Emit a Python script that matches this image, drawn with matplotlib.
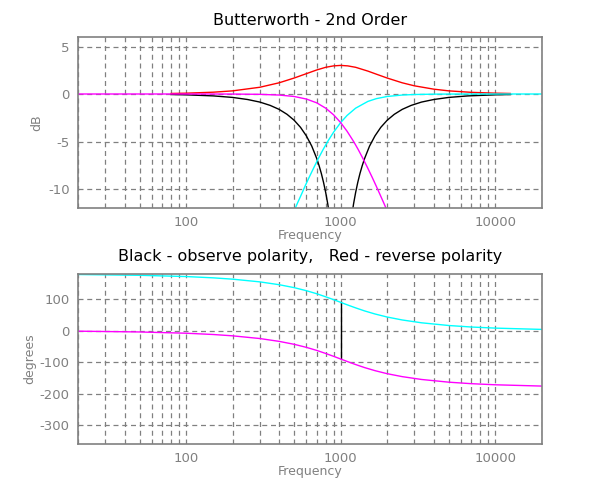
import matplotlib
matplotlib.use("Agg")
import matplotlib.pyplot as plt
from matplotlib.ticker import LogLocator, FixedLocator, NullFormatter

# ---- data ----
# Magnitude (dB)
f_lp = [20, 50, 100, 150, 200, 300, 400, 500, 600, 700, 800, 900, 1000, 1100, 1200, 1250,
        1300, 1400, 1500, 1600, 1700, 1800, 1900, 2000, 2200]
db_lp = [0.0, 0.0, 0.0, -0.002, -0.007, -0.035, -0.11, -0.26, -0.53, -0.93, -1.49, -2.19,
         -3.01, -3.92, -4.88, -5.37, -5.86, -6.85, -7.83, -8.78, -9.71, -10.61, -11.47,
         -12.3, -13.8]

f_hp = [450, 500, 526, 556, 588, 625, 667, 714, 769, 800, 833, 900, 1000, 1100, 1250, 1500,
        1700, 2000, 2500, 3000, 4000, 5000, 7000, 10000, 20000]
db_hp = [-13.8, -12.3, -11.47, -10.61, -9.71, -8.78, -7.83, -6.85, -5.86, -5.37, -4.88,
         -4.02, -3.01, -2.26, -1.49, -0.78, -0.49, -0.26, -0.11, -0.053, -0.017, -0.007,
         -0.002, 0.0, 0.0]

f_sum = [80, 100, 150, 200, 300, 400, 500, 600, 700, 800, 900, 1000, 1111, 1250, 1500,
         1700, 2000, 2500, 3000, 4000, 5000, 7000, 10000, 12500]
db_rev = [0.055, 0.086, 0.19, 0.33, 0.71, 1.18, 1.68, 2.14, 2.53, 2.81, 2.96, 3.01, 2.96,
          2.81, 2.41, 2.09, 1.68, 1.18, 0.86, 0.51, 0.33, 0.175, 0.086, 0.055]

f_notch_lo = [80, 100, 150, 200, 250, 300, 350, 400, 450, 500, 550, 600, 650, 700, 725,
              750, 775, 800, 825, 850]
db_notch_lo = [-0.056, -0.087, -0.20, -0.36, -0.58, -0.85, -1.20, -1.62, -2.14, -2.76,
               -3.51, -4.41, -5.48, -6.78, -7.54, -8.37, -9.31, -10.36, -11.56, -12.95]
f_notch_hi = [1176, 1212, 1250, 1290, 1333, 1379, 1429, 1538, 1667, 1818, 2000, 2222, 2500,
              2857, 3333, 4000, 5000, 6667, 10000, 12500]
db_notch_hi = [-12.95, -11.56, -10.36, -9.31, -8.37, -7.54, -6.78, -5.48, -4.41, -3.51,
               -2.76, -2.14, -1.62, -1.20, -0.85, -0.58, -0.36, -0.20, -0.087, -0.056]

# Phase (degrees)
f_ph = [20, 50, 100, 150, 200, 300, 400, 500, 600, 700, 800, 900, 1000, 1111, 1250,
        1429, 1667, 2000, 2500, 3333, 5000, 7000, 10000, 20000]
ph_lp = [-1.6, -4.1, -8.1, -12.2, -16.4, -25.0, -34.0, -43.3, -53.0, -62.7, -72.4, -81.5,
         -90.0, -98.5, -107.6, -117.3, -127.0, -136.7, -146.0, -155.0, -163.6, -168.4,
         -171.9, -176.0]
ph_hp = [178.4, 175.9, 171.9, 167.8, 163.6, 155.0, 146.0, 136.7, 127.0, 117.3, 107.6,
         98.5, 90.0, 81.5, 72.4, 62.7, 53.0, 43.3, 34.0, 25.0, 16.4, 11.6, 8.1, 4.0]
f_jump = [1000, 1000]
ph_jump = [-90, 90]

xticks = [100, 1000, 10000]
xticklabels = ["100", "1000", "10000"]
yticks_top = [5, 0, -5, -10]
yticks_bot = [100, 0, -100, -200, -300]

# ---- figure ----
plt.rcParams['font.family'] = ['DejaVu Sans']
plt.rcParams['axes.unicode_minus'] = False
fig = plt.figure(figsize=(6, 5), dpi=100)
ax1 = fig.add_axes([0.13, 0.584, 0.773, 0.342])
ax2 = fig.add_axes([0.13, 0.112, 0.773, 0.340])

gray = '#808080'

def style(ax, yt, ylab_x):
    ax.set_xscale('log')
    ax.set_xlim(20, 20000)
    ax.xaxis.set_major_locator(FixedLocator(xticks))
    ax.set_xticklabels(xticklabels)
    ax.xaxis.set_minor_locator(LogLocator(base=10, subs=range(2, 10)))
    ax.xaxis.set_minor_formatter(NullFormatter())
    ax.set_yticks(yt)
    ax.grid(True, which='both', axis='x', color=gray, linestyle=(0, (4, 3)), linewidth=0.9)
    ax.grid(True, which='major', axis='y', color=gray, linestyle=(0, (4, 3)), linewidth=0.9)
    ax.tick_params(which='both', length=0, labelcolor=gray, labelsize=9.5, pad=6)
    for s in ax.spines.values():
        s.set_color(gray)
        s.set_linewidth(1.2)
    ax.set_xlabel('Frequency', color=gray, fontsize=9, labelpad=0)
    ax.yaxis.set_label_coords(ylab_x, 0.5)
    ax.set_axisbelow(True)

style(ax1, yticks_top, -0.075)
ax1.set_ylim(-12, 6)
ax1.plot(f_notch_lo, db_notch_lo, color='black', lw=1)
ax1.plot(f_notch_hi, db_notch_hi, color='black', lw=1)
ax1.plot(f_sum, db_rev, color='red', lw=1)
ax1.plot(f_hp, db_hp, color='cyan', lw=1)
ax1.plot(f_lp, db_lp, color='magenta', lw=1)
ax1.set_ylabel('dB', color=gray, fontsize=9)
ax1.set_title('Butterworth - 2nd Order', fontsize=11.5, pad=9)

style(ax2, yticks_bot, -0.09)
ax2.set_ylim(-360, 180)
ax2.plot(f_jump, ph_jump, color='black', lw=1)
ax2.plot(f_ph, ph_hp, color='cyan', lw=1)
ax2.plot(f_ph, ph_lp, color='magenta', lw=1)
ax2.set_ylabel('degrees', color=gray, fontsize=9)
ax2.set_title('Black - observe polarity,   Red - reverse polarity', fontsize=11.5, pad=9)

fig.savefig('out.png', dpi=100)
